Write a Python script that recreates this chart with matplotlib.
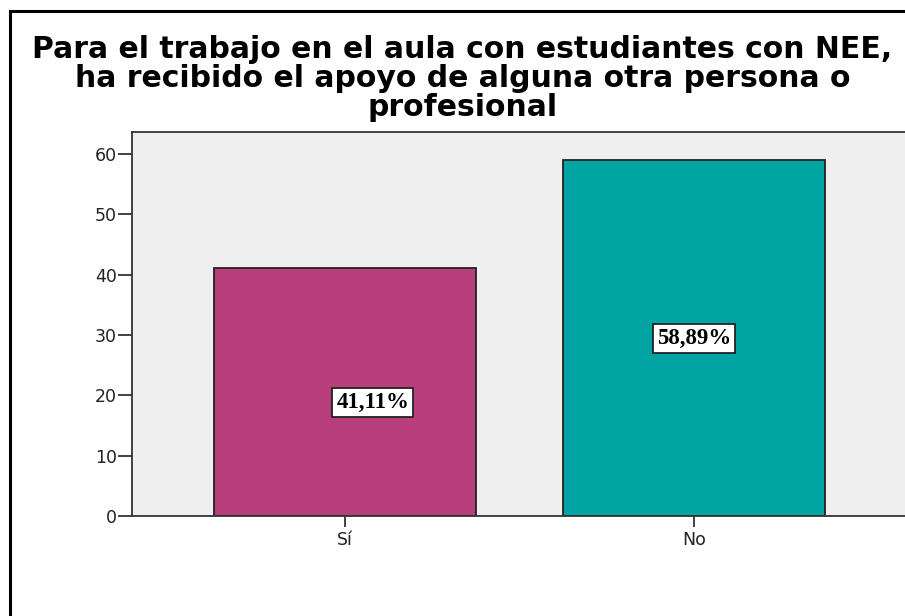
import matplotlib
matplotlib.use("Agg")
import matplotlib.pyplot as plt
from matplotlib.lines import Line2D

# data
categories = ["Sí", "No"]
values = [41.11, 58.89]
labels = ["41,11%", "58,89%"]
colors = ["#B83E7C", "#00A5A3"]
yticks = [0, 10, 20, 30, 40, 50, 60]

title = ("Para el trabajo en el aula con estudiantes con NEE,\n"
         "ha recibido el apoyo de alguna otra persona o\n"
         "profesional")

plt.rcParams['font.family'] = ['DejaVu Sans']

fig = plt.figure(figsize=(9.05, 6.16), dpi=100)
ax = fig.add_axes([0.1459, 0.1623, 0.8563, 0.6234])
ax.set_facecolor("#EFEFEF")

x = list(range(len(categories)))
ax.bar(x, values, width=0.75, color=colors, edgecolor="#222222", linewidth=1.3, zorder=2)

# percentage labels, boxed like the SPSS output
label_y = [18.8, values[1] / 2]
label_dx = [0.08, 0.0]
for i, lab in enumerate(labels):
    ax.text(x[i] + label_dx[i], label_y[i], lab, ha="center", va="center",
            family=["Liberation Serif", "DejaVu Serif"], fontweight="bold", fontsize=16.5,
            bbox=dict(boxstyle="square,pad=0.18", facecolor="white", edgecolor="#222222", linewidth=1.3),
            zorder=3)

ax.set_xlim(-0.61, 1.61)
ax.set_ylim(0, 63.6)
ax.set_xticks(x)
ax.set_xticklabels(categories, fontsize=12.5)
ax.set_yticks(yticks)
ax.tick_params(axis="y", labelsize=12.5, length=10, width=1.3, pad=1, colors="#333333", labelcolor="#222222")
ax.tick_params(axis="x", length=8, width=1.3, pad=3, colors="#333333", labelcolor="#222222")
for s in ax.spines.values():
    s.set_color("#333333")
    s.set_linewidth(1.3)

fig.text(0.511, 1 - 35 / 616, title, ha="center", va="top", fontsize=21.5, fontweight="bold",
         linespacing=0.99, multialignment="center")

# outer frame (cut at right and bottom in the original)
fig.add_artist(Line2D([10 / 905, 10 / 905], [0, 1 - 10.5 / 616], color="black", linewidth=2.2,
                      transform=fig.transFigure))
fig.add_artist(Line2D([10 / 905, 1], [1 - 10.5 / 616, 1 - 10.5 / 616], color="black", linewidth=2.2,
                      transform=fig.transFigure))

fig.savefig("out.png", dpi=100)
